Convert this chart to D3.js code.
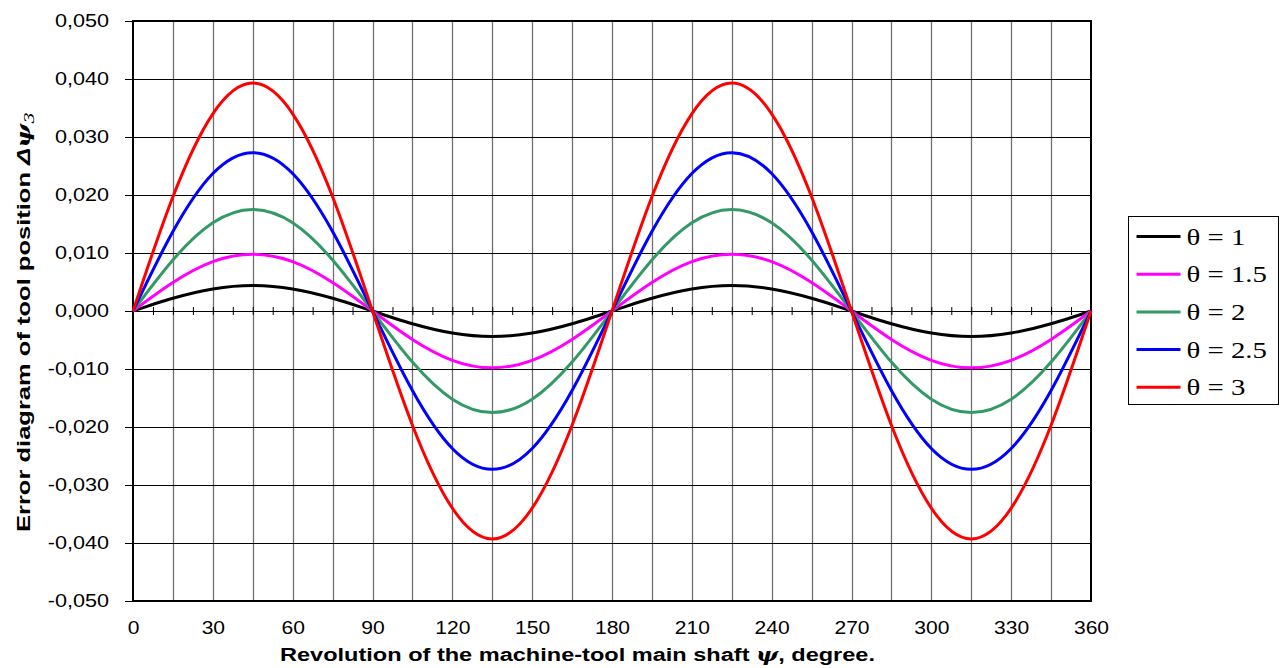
<!DOCTYPE html>
<meta charset="utf-8">
<style>
    body { margin: 0; background: #fff; }
    .tick text { font-family: "Liberation Sans", Arial, sans-serif; font-size: 18px; fill: #000; }
    .title { font-family: "Liberation Sans", Arial, sans-serif; font-size: 18px; font-weight: bold; }
    .legend text { font-family: "Liberation Serif", "Times New Roman", serif; font-size: 24px; }
</style>
<body>
<script src="https://d3js.org/d3.v7.min.js"></script>
<script>
    // angle of the main shaft, degree
    let angles = [0, 15, 30, 45, 60, 75, 90, 105, 120, 135, 150, 165, 180,
        195, 210, 225, 240, 255, 270, 285, 300, 315, 330, 345, 360];

    // error values
    let theta1 = [0, 0.0022, 0.0038, 0.0044, 0.0038, 0.0022, 0, -0.0022, -0.0038, -0.0044, -0.0038, -0.0022, 0,
        0.0022, 0.0038, 0.0044, 0.0038, 0.0022, 0, -0.0022, -0.0038, -0.0044, -0.0038, -0.0022, 0];
    let theta15 = [0, 0.0049, 0.0085, 0.0098, 0.0085, 0.0049, 0, -0.0049, -0.0085, -0.0098, -0.0085, -0.0049, 0,
        0.0049, 0.0085, 0.0098, 0.0085, 0.0049, 0, -0.0049, -0.0085, -0.0098, -0.0085, -0.0049, 0];
    let theta2 = [0, 0.0088, 0.0152, 0.0175, 0.0152, 0.0088, 0, -0.0088, -0.0152, -0.0175, -0.0152, -0.0088, 0,
        0.0088, 0.0152, 0.0175, 0.0152, 0.0088, 0, -0.0088, -0.0152, -0.0175, -0.0152, -0.0088, 0];
    let theta25 = [0, 0.0137, 0.0237, 0.0273, 0.0237, 0.0137, 0, -0.0137, -0.0237, -0.0273, -0.0237, -0.0137, 0,
        0.0137, 0.0237, 0.0273, 0.0237, 0.0137, 0, -0.0137, -0.0237, -0.0273, -0.0237, -0.0137, 0];
    let theta3 = [0, 0.0197, 0.0340, 0.0393, 0.0340, 0.0197, 0, -0.0197, -0.0340, -0.0393, -0.0340, -0.0197, 0,
        0.0197, 0.0340, 0.0393, 0.0340, 0.0197, 0, -0.0197, -0.0340, -0.0393, -0.0340, -0.0197, 0];

    let seriesNames = ["\u03b8 = 1", "\u03b8 = 1.5", "\u03b8 = 2", "\u03b8 = 2.5", "\u03b8 = 3"];
    let seriesColors = ["#000000", "#ff00ff", "#339966", "#0000ff", "#ff0000"];
    let seriesValues = [theta1, theta15, theta2, theta25, theta3];

    let xTicks = [0, 30, 60, 90, 120, 150, 180, 210, 240, 270, 300, 330, 360];
    let yTicks = [-0.05, -0.04, -0.03, -0.02, -0.01, 0, 0.01, 0.02, 0.03, 0.04, 0.05];

    let margin = { top: 21, left: 133 },
        width = 958,
        height = 580;

    let svg = d3.select("body").append("svg")
        .attr("width", 1280)
        .attr("height", 668);

    let g = svg.append("g")
        .attr("transform", "translate(" + margin.left + "," + margin.top + ")");

    let xScale = d3.scaleLinear().domain([0, 360]).range([0, width]);
    let yScale = d3.scaleLinear().domain([-0.05, 0.05]).range([height, 0]);

    // the original text is a bit wider than the fonts we have
    function stretch(sel, k) {
        sel.each(function() {
            let w = this.getComputedTextLength();
            d3.select(this).attr("textLength", w * k).attr("lengthAdjust", "spacingAndGlyphs");
        });
    }

    // vertical grid, every 15 degrees
    g.append("g").selectAll("line")
        .data(d3.range(15, 360, 15))
        .enter().append("line")
        .attr("x1", d => Math.round(xScale(d)) + 0.5).attr("x2", d => Math.round(xScale(d)) + 0.5)
        .attr("y1", 0).attr("y2", height)
        .attr("stroke", "#707070")
        .attr("stroke-width", 1.3);

    // horizontal grid
    g.append("g").selectAll("line")
        .data(yTicks)
        .enter().append("line")
        .attr("x1", 0).attr("x2", width)
        .attr("y1", d => Math.round(yScale(d)) + 0.5).attr("y2", d => Math.round(yScale(d)) + 0.5)
        .attr("stroke", "#000")
        .attr("stroke-width", 1);

    // frame
    g.append("rect")
        .attr("width", width).attr("height", height)
        .attr("fill", "none")
        .attr("stroke", "#000")
        .attr("stroke-width", 2);

    // y axis
    let yAxis = g.append("g")
        .call(d3.axisLeft(yScale)
            .tickValues(yTicks)
            .tickSize(8)
            .tickPadding(16)
            .tickFormat(d => d3.format(".3f")(d).replace(".", ",").replace("−", "-")));
    yAxis.select(".domain").remove();
    yAxis.selectAll(".tick line").attr("stroke", "#000");
    yAxis.selectAll(".tick text").call(stretch, 1.2);

    // x axis labels at the bottom
    let xAxis = g.append("g")
        .attr("transform", "translate(0," + height + ")")
        .call(d3.axisBottom(xScale).tickValues(xTicks).tickSize(0).tickPadding(20));
    xAxis.select(".domain").remove();
    xAxis.selectAll(".tick text").call(stretch, 1.17);

    // zero axis with small ticks
    let zeroAxis = g.append("g")
        .attr("transform", "translate(0," + yScale(0) + ")")
        .call(d3.axisBottom(xScale).tickValues(d3.range(0, 361, 7.5)).tickSize(4).tickFormat(""));
    zeroAxis.select(".domain").attr("stroke", "#000").attr("stroke-width", 1);
    zeroAxis.selectAll(".tick line").attr("y1", -4).attr("stroke", "#000");

    // curves
    let line = d3.line()
        .x((d, i) => xScale(angles[i]))
        .y(d => yScale(d))
        .curve(d3.curveNatural);

    g.append("g").selectAll("path")
        .data(seriesValues)
        .enter().append("path")
        .attr("d", d => line(d))
        .attr("fill", "none")
        .attr("stroke", (d, i) => seriesColors[i])
        .attr("stroke-width", 3);

    // axis titles
    let xTitle = svg.append("text")
        .attr("class", "title")
        .attr("x", 280)
        .attr("y", 661);
    xTitle.append("tspan").text("Revolution of the machine-tool main shaft ");
    xTitle.append("tspan").attr("font-family", "DejaVu Serif").attr("font-style", "italic").text("\u03c8");
    xTitle.append("tspan").text(", degree.");
    xTitle.attr("textLength", 595).attr("lengthAdjust", "spacingAndGlyphs");

    let yTitle = svg.append("text")
        .attr("class", "title")
        .attr("transform", "translate(30,532) rotate(-90)");
    yTitle.append("tspan").text("Error diagram of tool position ");
    yTitle.append("tspan").attr("font-style", "italic").text("\u0394");
    yTitle.append("tspan").attr("font-family", "DejaVu Serif").attr("font-style", "italic").text("\u03c8");
    yTitle.append("tspan").attr("font-family", "DejaVu Serif").attr("font-style", "italic")
        .attr("font-weight", "normal").attr("font-size", "13px").attr("dy", 4).text("3");
    yTitle.attr("textLength", 420).attr("lengthAdjust", "spacingAndGlyphs");

    // legend
    let legend = svg.append("g")
        .attr("class", "legend")
        .attr("transform", "translate(1128.5,216.5)");
    legend.append("rect")
        .attr("width", 150).attr("height", 188)
        .attr("fill", "#fff")
        .attr("stroke", "#000")
        .attr("stroke-width", 1);
    let items = legend.selectAll(".item")
        .data(seriesNames)
        .enter().append("g")
        .attr("transform", (d, i) => "translate(0," + (20 + i * 37.7) + ")");
    items.append("line")
        .attr("x1", 8).attr("x2", 52)
        .attr("stroke", (d, i) => seriesColors[i])
        .attr("stroke-width", 3);
    items.append("text")
        .attr("x", 58)
        .attr("y", 8)
        .text(d => d)
        .call(stretch, 1.2);
</script>
</body>
